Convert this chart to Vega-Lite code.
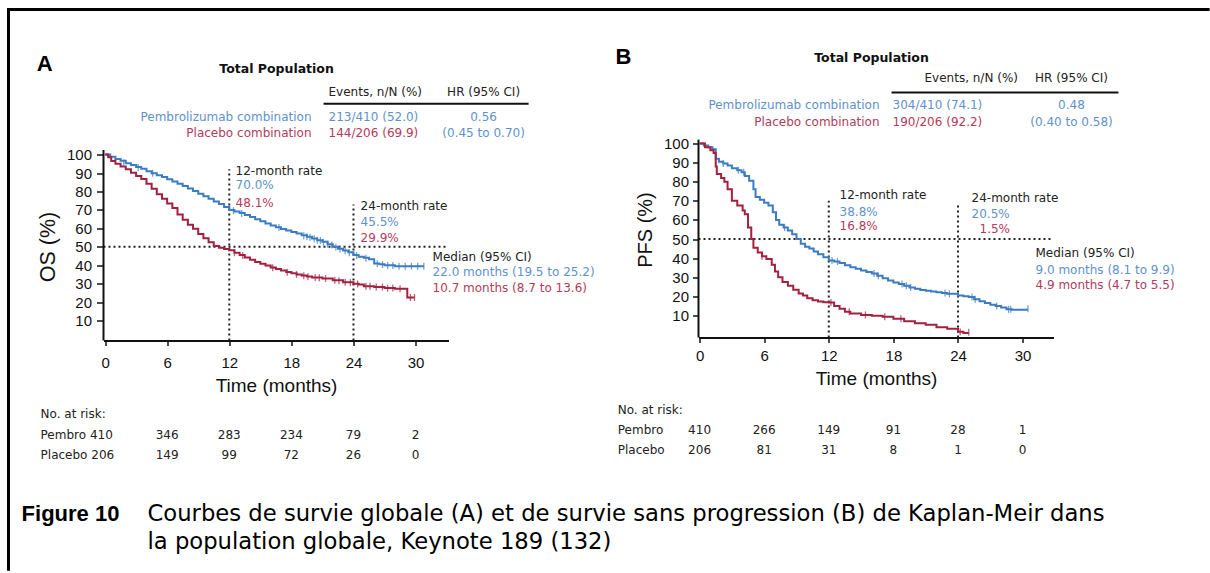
{
  "$schema": "https://vega.github.io/schema/vega-lite/v6.json",
  "autosize": {"type": "pad"},
  "padding": {"left": 5.5, "top": 6.5, "right": 0, "bottom": 0},
  "background": "white",
  "config": {"view": {"stroke": null}, "font": "Liberation Sans"},
  "spacing": 250,
  "bounds": "flush",
  "resolve": {"scale": {"color": "independent"}},
  "datasets": {
    "curveA": [
      {"arm": "Pembro", "x": 0, "y": 100}, {"arm": "Pembro", "x": 0.5, "y": 98.8}, {"arm": "Pembro", "x": 1, "y": 97.6}, {"arm": "Pembro", "x": 1.5, "y": 96.6},
      {"arm": "Pembro", "x": 2, "y": 95.3}, {"arm": "Pembro", "x": 2.5, "y": 94.4}, {"arm": "Pembro", "x": 3, "y": 93.2}, {"arm": "Pembro", "x": 3.5, "y": 92.3},
      {"arm": "Pembro", "x": 4, "y": 91}, {"arm": "Pembro", "x": 4.5, "y": 89.9}, {"arm": "Pembro", "x": 5, "y": 88.8}, {"arm": "Pembro", "x": 5.5, "y": 87.8},
      {"arm": "Pembro", "x": 6, "y": 86.6}, {"arm": "Pembro", "x": 6.5, "y": 85.4}, {"arm": "Pembro", "x": 7, "y": 84.2}, {"arm": "Pembro", "x": 7.5, "y": 83},
      {"arm": "Pembro", "x": 8, "y": 81.6}, {"arm": "Pembro", "x": 8.5, "y": 80.2}, {"arm": "Pembro", "x": 9, "y": 78.8}, {"arm": "Pembro", "x": 9.5, "y": 77.4},
      {"arm": "Pembro", "x": 10, "y": 76}, {"arm": "Pembro", "x": 10.5, "y": 74.6}, {"arm": "Pembro", "x": 11, "y": 73.2}, {"arm": "Pembro", "x": 11.5, "y": 71.6},
      {"arm": "Pembro", "x": 12, "y": 70}, {"arm": "Pembro", "x": 12.5, "y": 69.2}, {"arm": "Pembro", "x": 13, "y": 68.3}, {"arm": "Pembro", "x": 13.5, "y": 67.2},
      {"arm": "Pembro", "x": 14, "y": 66.2}, {"arm": "Pembro", "x": 14.5, "y": 65}, {"arm": "Pembro", "x": 15, "y": 63.9}, {"arm": "Pembro", "x": 15.5, "y": 62.7},
      {"arm": "Pembro", "x": 16, "y": 61.6}, {"arm": "Pembro", "x": 16.5, "y": 60.6}, {"arm": "Pembro", "x": 17, "y": 59.7}, {"arm": "Pembro", "x": 17.5, "y": 58.8},
      {"arm": "Pembro", "x": 18, "y": 58}, {"arm": "Pembro", "x": 18.5, "y": 57.2}, {"arm": "Pembro", "x": 19, "y": 56.2}, {"arm": "Pembro", "x": 19.5, "y": 55.4},
      {"arm": "Pembro", "x": 20, "y": 54.5}, {"arm": "Pembro", "x": 20.5, "y": 53.6}, {"arm": "Pembro", "x": 21, "y": 52.7}, {"arm": "Pembro", "x": 21.5, "y": 51.4},
      {"arm": "Pembro", "x": 22, "y": 50}, {"arm": "Pembro", "x": 22.5, "y": 49}, {"arm": "Pembro", "x": 23, "y": 48}, {"arm": "Pembro", "x": 23.5, "y": 47},
      {"arm": "Pembro", "x": 24, "y": 45.5}, {"arm": "Pembro", "x": 24.5, "y": 44.6}, {"arm": "Pembro", "x": 25, "y": 44}, {"arm": "Pembro", "x": 25.5, "y": 43.2},
      {"arm": "Pembro", "x": 26, "y": 41}, {"arm": "Pembro", "x": 26.5, "y": 40.6}, {"arm": "Pembro", "x": 27, "y": 40}, {"arm": "Pembro", "x": 28, "y": 39.5},
      {"arm": "Pembro", "x": 30.8, "y": 39.5},
      {"arm": "Placebo", "x": 0, "y": 100}, {"arm": "Placebo", "x": 0.3, "y": 98.5}, {"arm": "Placebo", "x": 0.6, "y": 96.5}, {"arm": "Placebo", "x": 1, "y": 95},
      {"arm": "Placebo", "x": 1.5, "y": 93.5}, {"arm": "Placebo", "x": 2, "y": 92}, {"arm": "Placebo", "x": 2.5, "y": 90.2}, {"arm": "Placebo", "x": 3, "y": 88.4},
      {"arm": "Placebo", "x": 3.5, "y": 86.8}, {"arm": "Placebo", "x": 4, "y": 84.2}, {"arm": "Placebo", "x": 4.5, "y": 81.5}, {"arm": "Placebo", "x": 5, "y": 78.5},
      {"arm": "Placebo", "x": 5.5, "y": 76}, {"arm": "Placebo", "x": 6, "y": 73.5}, {"arm": "Placebo", "x": 6.5, "y": 71}, {"arm": "Placebo", "x": 7, "y": 67.5},
      {"arm": "Placebo", "x": 7.5, "y": 64.6}, {"arm": "Placebo", "x": 8, "y": 62}, {"arm": "Placebo", "x": 8.5, "y": 59.8}, {"arm": "Placebo", "x": 9, "y": 57},
      {"arm": "Placebo", "x": 9.5, "y": 54.6}, {"arm": "Placebo", "x": 10, "y": 52.5}, {"arm": "Placebo", "x": 10.5, "y": 50.5}, {"arm": "Placebo", "x": 11, "y": 49.5},
      {"arm": "Placebo", "x": 11.5, "y": 48.8}, {"arm": "Placebo", "x": 12, "y": 48.1}, {"arm": "Placebo", "x": 12.5, "y": 46.8}, {"arm": "Placebo", "x": 13, "y": 45.5},
      {"arm": "Placebo", "x": 13.5, "y": 44.2}, {"arm": "Placebo", "x": 14, "y": 43}, {"arm": "Placebo", "x": 14.5, "y": 41.8}, {"arm": "Placebo", "x": 15, "y": 40.8},
      {"arm": "Placebo", "x": 15.5, "y": 39.8}, {"arm": "Placebo", "x": 16, "y": 38.8}, {"arm": "Placebo", "x": 16.5, "y": 37.9}, {"arm": "Placebo", "x": 17, "y": 37.1},
      {"arm": "Placebo", "x": 17.5, "y": 36.3}, {"arm": "Placebo", "x": 18, "y": 35.6}, {"arm": "Placebo", "x": 18.5, "y": 35}, {"arm": "Placebo", "x": 19, "y": 34.4},
      {"arm": "Placebo", "x": 19.5, "y": 33.9}, {"arm": "Placebo", "x": 20, "y": 33.4}, {"arm": "Placebo", "x": 21, "y": 32.8}, {"arm": "Placebo", "x": 22, "y": 31.8},
      {"arm": "Placebo", "x": 23, "y": 30.8}, {"arm": "Placebo", "x": 24, "y": 29.9}, {"arm": "Placebo", "x": 24.5, "y": 29.5}, {"arm": "Placebo", "x": 25, "y": 28.6},
      {"arm": "Placebo", "x": 26, "y": 28.2}, {"arm": "Placebo", "x": 27, "y": 27.6}, {"arm": "Placebo", "x": 28, "y": 27.3}, {"arm": "Placebo", "x": 29.2, "y": 22.5},
      {"arm": "Placebo", "x": 29.9, "y": 22.5}
    ],
    "censorA": [
      {"arm": "Pembro", "x": 1.8, "y": 95.5}, {"arm": "Pembro", "x": 3.2, "y": 93}, {"arm": "Pembro", "x": 4.6, "y": 89.9}, {"arm": "Pembro", "x": 12.4, "y": 69.6},
      {"arm": "Pembro", "x": 13.2, "y": 68}, {"arm": "Pembro", "x": 16.8, "y": 60.4}, {"arm": "Pembro", "x": 19.2, "y": 56}, {"arm": "Pembro", "x": 19.5, "y": 55.4},
      {"arm": "Pembro", "x": 19.8, "y": 55.2}, {"arm": "Pembro", "x": 20.2, "y": 54.3}, {"arm": "Pembro", "x": 20.5, "y": 53.6}, {"arm": "Pembro", "x": 20.8, "y": 53.4},
      {"arm": "Pembro", "x": 21.1, "y": 52.5}, {"arm": "Pembro", "x": 21.5, "y": 51.4}, {"arm": "Pembro", "x": 21.9, "y": 51}, {"arm": "Pembro", "x": 22.3, "y": 49.8},
      {"arm": "Pembro", "x": 22.7, "y": 48.8}, {"arm": "Pembro", "x": 23.2, "y": 47.8}, {"arm": "Pembro", "x": 23.6, "y": 46.8}, {"arm": "Pembro", "x": 24.3, "y": 45.2},
      {"arm": "Pembro", "x": 25.2, "y": 43.8}, {"arm": "Pembro", "x": 26.3, "y": 40.8}, {"arm": "Pembro", "x": 26.8, "y": 40.4}, {"arm": "Pembro", "x": 27.3, "y": 39.9},
      {"arm": "Pembro", "x": 27.8, "y": 39.8}, {"arm": "Pembro", "x": 28.4, "y": 39.5}, {"arm": "Pembro", "x": 29, "y": 39.5}, {"arm": "Pembro", "x": 29.6, "y": 39.5},
      {"arm": "Pembro", "x": 30.2, "y": 39.5}, {"arm": "Pembro", "x": 30.8, "y": 39.5},
      {"arm": "Placebo", "x": 12.5, "y": 46.8}, {"arm": "Placebo", "x": 13.3, "y": 45.3}, {"arm": "Placebo", "x": 16.2, "y": 38.6}, {"arm": "Placebo", "x": 17.6, "y": 36.2},
      {"arm": "Placebo", "x": 18.5, "y": 35}, {"arm": "Placebo", "x": 19.2, "y": 34.3}, {"arm": "Placebo", "x": 19.6, "y": 33.8}, {"arm": "Placebo", "x": 20.3, "y": 33.3},
      {"arm": "Placebo", "x": 20.7, "y": 33.2}, {"arm": "Placebo", "x": 21.3, "y": 32.8}, {"arm": "Placebo", "x": 22.2, "y": 31.8}, {"arm": "Placebo", "x": 22.6, "y": 31.6},
      {"arm": "Placebo", "x": 23.2, "y": 30.8}, {"arm": "Placebo", "x": 23.7, "y": 30.6}, {"arm": "Placebo", "x": 24.4, "y": 29.8}, {"arm": "Placebo", "x": 25.2, "y": 28.6},
      {"arm": "Placebo", "x": 25.6, "y": 28.6}, {"arm": "Placebo", "x": 26.2, "y": 28.2}, {"arm": "Placebo", "x": 26.8, "y": 28.2}, {"arm": "Placebo", "x": 27.3, "y": 27.6},
      {"arm": "Placebo", "x": 27.8, "y": 27.6}, {"arm": "Placebo", "x": 28.5, "y": 27.3}, {"arm": "Placebo", "x": 29.5, "y": 22.5}, {"arm": "Placebo", "x": 29.9, "y": 22.5}
    ],
    "refA": [
      {"x": 12, "y": -0.8, "x2": 12, "y2": 92},
      {"x": 24, "y": -0.8, "x2": 24, "y2": 73},
      {"x": -0.15, "y": 50, "x2": 33.18, "y2": 50}
    ],
    "solidA": [
      {"x": -0.15, "y": -0.8, "x2": -0.15, "y2": 102.5},
      {"x": 21.11, "y": 127.6, "x2": 40.92, "y2": 127.6}
    ],
    "frame": [
      {"x": -9.47, "y": 178.6, "x2": 106.71, "y2": 178.6},
      {"x": -9.33, "y": 179.4, "x2": -9.33, "y2": -125.6}
    ],
    "textA": [
      {"part": "letter", "x": -6.6, "y": 149.2, "label": "A"},
      {"part": "title", "x": 16.57, "y": 146.6, "label": "Total Population"},
      {"part": "events_head", "x": 21.59, "y": 134.1, "label": "Events, n/N (%)", "arm": "none"},
      {"part": "hr_head", "x": 36.57, "y": 134.1, "label": "HR (95% CI)", "arm": "none"},
      {"part": "arm", "x": 19.95, "y": 120.6, "label": "Pembrolizumab combination", "arm": "Pembro"},
      {"part": "arm", "x": 19.95, "y": 111.9, "label": "Placebo combination", "arm": "Placebo"},
      {"part": "events", "x": 21.59, "y": 120.6, "label": "213/410 (52.0)", "arm": "Pembro"},
      {"part": "events", "x": 21.59, "y": 111.9, "label": "144/206 (69.9)", "arm": "Placebo"},
      {"part": "hr", "x": 36.57, "y": 120.6, "label": "0.56", "arm": "Pembro"},
      {"part": "hr", "x": 36.57, "y": 111.9, "label": "(0.45 to 0.70)", "arm": "Pembro"},
      {"part": "rate_head", "x": 12.61, "y": 91.3, "label": "12-month rate", "arm": "none"},
      {"part": "rate", "x": 12.61, "y": 83.7, "label": "70.0%", "arm": "Pembro"},
      {"part": "rate", "x": 12.61, "y": 74.0, "label": "48.1%", "arm": "Placebo"},
      {"part": "rate_head", "x": 24.69, "y": 72.1, "label": "24-month rate", "arm": "none"},
      {"part": "rate", "x": 24.69, "y": 63.7, "label": "45.5%", "arm": "Pembro"},
      {"part": "rate", "x": 24.69, "y": 55.0, "label": "29.9%", "arm": "Placebo"},
      {"part": "rate_head", "x": 31.64, "y": 44.2, "label": "Median (95% CI)", "arm": "none"},
      {"part": "rate", "x": 31.64, "y": 36.1, "label": "22.0 months (19.5 to 25.2)", "arm": "Pembro"},
      {"part": "rate", "x": 31.64, "y": 27.4, "label": "10.7 months (8.7 to 13.6)", "arm": "Placebo"},
      {"part": "risk_head", "x": -6.23, "y": -40.4, "label": "No. at risk:", "arm": "none"},
      {"part": "risk_head", "x": -6.23, "y": -51.8, "label": "Pembro 410", "arm": "none"},
      {"part": "risk_head", "x": -6.23, "y": -63.1, "label": "Placebo 206", "arm": "none"},
      {"part": "risk", "x": 6, "y": -51.8, "label": "346"},
      {"part": "risk", "x": 12, "y": -51.8, "label": "283"},
      {"part": "risk", "x": 18, "y": -51.8, "label": "234"},
      {"part": "risk", "x": 24, "y": -51.8, "label": "79"},
      {"part": "risk", "x": 30, "y": -51.8, "label": "2"},
      {"part": "risk", "x": 6, "y": -63.1, "label": "149"},
      {"part": "risk", "x": 12, "y": -63.1, "label": "99"},
      {"part": "risk", "x": 18, "y": -63.1, "label": "72"},
      {"part": "risk", "x": 24, "y": -63.1, "label": "26"},
      {"part": "risk", "x": 30, "y": -63.1, "label": "0"},
      {"part": "fig", "x": -8.06, "y": -94.6, "label": "Figure 10"},
      {"part": "caption", "x": 4.1, "y": -94.6, "label": "Courbes de survie globale (A) et de survie sans progression (B) de Kaplan-Meir dans"},
      {"part": "caption", "x": 4.1, "y": -110.3, "label": "la population globale, Keynote 189 (132)"}
    ],
    "curveB": [
      {"arm": "Pembro", "x": 0, "y": 100}, {"arm": "Pembro", "x": 0.4, "y": 99}, {"arm": "Pembro", "x": 0.8, "y": 98}, {"arm": "Pembro", "x": 1.2, "y": 97},
      {"arm": "Pembro", "x": 1.5, "y": 92}, {"arm": "Pembro", "x": 1.8, "y": 90.5}, {"arm": "Pembro", "x": 2.2, "y": 89.5}, {"arm": "Pembro", "x": 2.6, "y": 88.5},
      {"arm": "Pembro", "x": 3, "y": 87}, {"arm": "Pembro", "x": 3.5, "y": 86}, {"arm": "Pembro", "x": 3.9, "y": 85}, {"arm": "Pembro", "x": 4.2, "y": 83},
      {"arm": "Pembro", "x": 4.6, "y": 80.5}, {"arm": "Pembro", "x": 5, "y": 76}, {"arm": "Pembro", "x": 5.2, "y": 72}, {"arm": "Pembro", "x": 5.6, "y": 70.5},
      {"arm": "Pembro", "x": 6, "y": 69}, {"arm": "Pembro", "x": 6.4, "y": 67.5}, {"arm": "Pembro", "x": 6.8, "y": 64}, {"arm": "Pembro", "x": 7.1, "y": 60},
      {"arm": "Pembro", "x": 7.4, "y": 57.5}, {"arm": "Pembro", "x": 7.8, "y": 56}, {"arm": "Pembro", "x": 8.2, "y": 54.5}, {"arm": "Pembro", "x": 8.6, "y": 52.5},
      {"arm": "Pembro", "x": 9, "y": 50}, {"arm": "Pembro", "x": 9.4, "y": 47.5}, {"arm": "Pembro", "x": 9.8, "y": 46}, {"arm": "Pembro", "x": 10.2, "y": 45},
      {"arm": "Pembro", "x": 10.6, "y": 43.5}, {"arm": "Pembro", "x": 11, "y": 42}, {"arm": "Pembro", "x": 11.5, "y": 40.5}, {"arm": "Pembro", "x": 12, "y": 38.8},
      {"arm": "Pembro", "x": 12.5, "y": 38.2}, {"arm": "Pembro", "x": 13, "y": 37.5}, {"arm": "Pembro", "x": 13.5, "y": 36.3}, {"arm": "Pembro", "x": 14, "y": 35.2},
      {"arm": "Pembro", "x": 14.5, "y": 34.5}, {"arm": "Pembro", "x": 15, "y": 33.5}, {"arm": "Pembro", "x": 15.5, "y": 32.8}, {"arm": "Pembro", "x": 16, "y": 32},
      {"arm": "Pembro", "x": 16.5, "y": 30.8}, {"arm": "Pembro", "x": 17, "y": 29.5}, {"arm": "Pembro", "x": 17.5, "y": 28.3}, {"arm": "Pembro", "x": 18, "y": 27.2},
      {"arm": "Pembro", "x": 18.5, "y": 26.5}, {"arm": "Pembro", "x": 19, "y": 25.5}, {"arm": "Pembro", "x": 19.5, "y": 24.7}, {"arm": "Pembro", "x": 20, "y": 24},
      {"arm": "Pembro", "x": 20.5, "y": 23.4}, {"arm": "Pembro", "x": 21, "y": 23}, {"arm": "Pembro", "x": 21.5, "y": 22.6}, {"arm": "Pembro", "x": 22, "y": 22.2},
      {"arm": "Pembro", "x": 22.5, "y": 21.8}, {"arm": "Pembro", "x": 23, "y": 21.4}, {"arm": "Pembro", "x": 24, "y": 20.5}, {"arm": "Pembro", "x": 24.5, "y": 20.1},
      {"arm": "Pembro", "x": 25, "y": 19.7}, {"arm": "Pembro", "x": 25.5, "y": 18.5}, {"arm": "Pembro", "x": 26, "y": 17.5}, {"arm": "Pembro", "x": 26.5, "y": 16.5},
      {"arm": "Pembro", "x": 27, "y": 15.6}, {"arm": "Pembro", "x": 27.5, "y": 15}, {"arm": "Pembro", "x": 28, "y": 14.2}, {"arm": "Pembro", "x": 28.5, "y": 13.2},
      {"arm": "Pembro", "x": 29, "y": 13}, {"arm": "Pembro", "x": 30.5, "y": 13},
      {"arm": "Placebo", "x": 0, "y": 100}, {"arm": "Placebo", "x": 0.5, "y": 98}, {"arm": "Placebo", "x": 1, "y": 96.5}, {"arm": "Placebo", "x": 1.3, "y": 95},
      {"arm": "Placebo", "x": 1.5, "y": 88}, {"arm": "Placebo", "x": 1.6, "y": 84}, {"arm": "Placebo", "x": 2, "y": 82}, {"arm": "Placebo", "x": 2.3, "y": 80},
      {"arm": "Placebo", "x": 2.6, "y": 76}, {"arm": "Placebo", "x": 3, "y": 70}, {"arm": "Placebo", "x": 3.5, "y": 67.5}, {"arm": "Placebo", "x": 4, "y": 65},
      {"arm": "Placebo", "x": 4.2, "y": 63}, {"arm": "Placebo", "x": 4.5, "y": 56}, {"arm": "Placebo", "x": 4.8, "y": 50}, {"arm": "Placebo", "x": 5, "y": 45.5},
      {"arm": "Placebo", "x": 5.4, "y": 43}, {"arm": "Placebo", "x": 5.8, "y": 41}, {"arm": "Placebo", "x": 6.2, "y": 39.5}, {"arm": "Placebo", "x": 6.7, "y": 36.5},
      {"arm": "Placebo", "x": 7, "y": 33}, {"arm": "Placebo", "x": 7.3, "y": 30}, {"arm": "Placebo", "x": 7.7, "y": 27.5}, {"arm": "Placebo", "x": 8.2, "y": 25.5},
      {"arm": "Placebo", "x": 8.7, "y": 23.5}, {"arm": "Placebo", "x": 9.2, "y": 21.5}, {"arm": "Placebo", "x": 9.6, "y": 20.5}, {"arm": "Placebo", "x": 10, "y": 19},
      {"arm": "Placebo", "x": 10.5, "y": 18}, {"arm": "Placebo", "x": 11, "y": 17.3}, {"arm": "Placebo", "x": 11.5, "y": 16.9}, {"arm": "Placebo", "x": 12, "y": 16.8},
      {"arm": "Placebo", "x": 12.5, "y": 15}, {"arm": "Placebo", "x": 13, "y": 13.5}, {"arm": "Placebo", "x": 13.5, "y": 12}, {"arm": "Placebo", "x": 14, "y": 11},
      {"arm": "Placebo", "x": 15, "y": 10.3}, {"arm": "Placebo", "x": 16, "y": 9.8}, {"arm": "Placebo", "x": 17, "y": 9.3}, {"arm": "Placebo", "x": 18, "y": 8.3},
      {"arm": "Placebo", "x": 19, "y": 7}, {"arm": "Placebo", "x": 20, "y": 6}, {"arm": "Placebo", "x": 21, "y": 5.2}, {"arm": "Placebo", "x": 22, "y": 3.8},
      {"arm": "Placebo", "x": 23, "y": 3}, {"arm": "Placebo", "x": 24, "y": 1.5}, {"arm": "Placebo", "x": 24.5, "y": 0.8}, {"arm": "Placebo", "x": 25, "y": 0.8}
    ],
    "censorB": [
      {"arm": "Pembro", "x": 2.2, "y": 89.5}, {"arm": "Pembro", "x": 3.6, "y": 86}, {"arm": "Pembro", "x": 4.1, "y": 85}, {"arm": "Pembro", "x": 7.9, "y": 56},
      {"arm": "Pembro", "x": 12.3, "y": 38.8}, {"arm": "Pembro", "x": 12.8, "y": 38.2}, {"arm": "Pembro", "x": 16.2, "y": 32}, {"arm": "Pembro", "x": 16.6, "y": 30.8},
      {"arm": "Pembro", "x": 18.8, "y": 26.5}, {"arm": "Pembro", "x": 19.2, "y": 25.5}, {"arm": "Pembro", "x": 19.6, "y": 24.7}, {"arm": "Pembro", "x": 22.8, "y": 21.8},
      {"arm": "Pembro", "x": 23.2, "y": 21.4}, {"arm": "Pembro", "x": 25.3, "y": 19.7}, {"arm": "Pembro", "x": 25.6, "y": 18.5}, {"arm": "Pembro", "x": 27.6, "y": 15},
      {"arm": "Pembro", "x": 28.7, "y": 13.2}, {"arm": "Pembro", "x": 28.9, "y": 13.2}, {"arm": "Pembro", "x": 30.5, "y": 13.5},
      {"arm": "Placebo", "x": 5.8, "y": 41}, {"arm": "Placebo", "x": 12.2, "y": 16.8}, {"arm": "Placebo", "x": 13.9, "y": 12}, {"arm": "Placebo", "x": 15.4, "y": 10.3},
      {"arm": "Placebo", "x": 17.2, "y": 9.3}, {"arm": "Placebo", "x": 18.7, "y": 8.3}, {"arm": "Placebo", "x": 24.2, "y": 1.5}, {"arm": "Placebo", "x": 25, "y": 1.2}
    ],
    "refB": [
      {"x": 12, "y": -1.52, "x2": 12, "y2": 70},
      {"x": 24, "y": -1.52, "x2": 24, "y2": 69},
      {"x": -0.1, "y": 50, "x2": 32.87, "y2": 50}
    ],
    "solidB": [
      {"x": -0.1, "y": -1.52, "x2": -0.1, "y2": 102},
      {"x": 17.83, "y": 126.7, "x2": 38.9, "y2": 126.7}
    ],
    "textB": [
      {"part": "letter", "x": -7.8, "y": 145.3, "label": "B"},
      {"part": "title", "x": 15.97, "y": 144.5, "label": "Total Population"},
      {"part": "events_head", "x": 20.89, "y": 134.5, "label": "Events, n/N (%)", "arm": "none"},
      {"part": "hr_head", "x": 34.54, "y": 134.5, "label": "HR (95% CI)", "arm": "none"},
      {"part": "arm", "x": 16.71, "y": 119.9, "label": "Pembrolizumab combination", "arm": "Pembro"},
      {"part": "arm", "x": 16.71, "y": 111.5, "label": "Placebo combination", "arm": "Placebo"},
      {"part": "events", "x": 17.92, "y": 119.9, "label": "304/410 (74.1)", "arm": "Pembro"},
      {"part": "events", "x": 17.92, "y": 111.5, "label": "190/206 (92.2)", "arm": "Placebo"},
      {"part": "hr", "x": 34.54, "y": 119.9, "label": "0.48", "arm": "Pembro"},
      {"part": "hr", "x": 34.54, "y": 111.5, "label": "(0.40 to 0.58)", "arm": "Pembro"},
      {"part": "rate_head", "x": 13.0, "y": 73.3, "label": "12-month rate", "arm": "none"},
      {"part": "rate", "x": 13.0, "y": 64.4, "label": "38.8%", "arm": "Pembro"},
      {"part": "rate", "x": 13.0, "y": 56.6, "label": "16.8%", "arm": "Placebo"},
      {"part": "rate_head", "x": 25.26, "y": 71.4, "label": "24-month rate", "arm": "none"},
      {"part": "rate", "x": 25.26, "y": 63.2, "label": "20.5%", "arm": "Pembro"},
      {"part": "rate", "x": 26.0, "y": 55.2, "label": "1.5%", "arm": "Placebo"},
      {"part": "rate_head", "x": 31.2, "y": 42.6, "label": "Median (95% CI)", "arm": "none"},
      {"part": "rate", "x": 31.2, "y": 33.9, "label": "9.0 months (8.1 to 9.9)", "arm": "Pembro"},
      {"part": "rate", "x": 31.2, "y": 26.1, "label": "4.9 months (4.7 to 5.5)", "arm": "Placebo"},
      {"part": "risk_head", "x": -7.6, "y": -39.2, "label": "No. at risk:", "arm": "none"},
      {"part": "risk_head", "x": -7.6, "y": -49.7, "label": "Pembro", "arm": "none"},
      {"part": "risk_head", "x": -7.6, "y": -60.6, "label": "Placebo", "arm": "none"},
      {"part": "risk", "x": 0, "y": -49.7, "label": "410"},
      {"part": "risk", "x": 6, "y": -49.7, "label": "266"},
      {"part": "risk", "x": 12, "y": -49.7, "label": "149"},
      {"part": "risk", "x": 18, "y": -49.7, "label": "91"},
      {"part": "risk", "x": 24, "y": -49.7, "label": "28"},
      {"part": "risk", "x": 30, "y": -49.7, "label": "1"},
      {"part": "risk", "x": 0, "y": -60.6, "label": "206"},
      {"part": "risk", "x": 6, "y": -60.6, "label": "81"},
      {"part": "risk", "x": 12, "y": -60.6, "label": "31"},
      {"part": "risk", "x": 18, "y": -60.6, "label": "8"},
      {"part": "risk", "x": 24, "y": -60.6, "label": "1"},
      {"part": "risk", "x": 30, "y": -60.6, "label": "0"}
    ]
  },
  "hconcat": [
    {
      "width": 345,
      "height": 204,
      "resolve": {"scale": {"color": "independent"}},
      "encoding": {
        "x": {
          "field": "x", "type": "quantitative",
          "scale": {"domain": [-0.15, 33.18], "nice": false, "zero": false},
          "axis": {
            "values": [0, 6, 12, 18, 24, 30], "format": "d", "title": "Time (months)", "grid": false,
            "domainWidth": 2, "domainColor": "#111", "tickColor": "#111", "tickWidth": 1.5, "tickSize": 5,
            "labelFont": "Liberation Sans", "labelFontSize": 15, "labelColor": "#111", "labelPadding": 10, "labelFlush": false,
            "titleFont": "Liberation Sans", "titleFontSize": 19, "titleFontWeight": "normal", "titleColor": "#111", "titlePadding": 6
          }
        },
        "y": {
          "field": "y", "type": "quantitative",
          "scale": {"domain": [-0.8, 109.8], "nice": false, "zero": false},
          "axis": {
            "values": [10, 20, 30, 40, 50, 60, 70, 80, 90, 100], "format": "d", "title": "OS (%)", "grid": false, "domain": false,
            "tickColor": "#111", "tickWidth": 1.5, "tickSize": 7,
            "labelFont": "Liberation Sans", "labelFontSize": 15, "labelColor": "#111", "labelPadding": 5, "labelFlush": false,
            "titleFont": "Liberation Sans", "titleFontSize": 21.5, "titleFontWeight": "normal", "titleColor": "#111", "titlePadding": 7, "titleY": 110
          }
        }
      },
      "layer": [
        {
          "data": {"name": "frame"},
          "mark": {"type": "rule", "color": "#000", "strokeWidth": 3},
          "encoding": {"x2": {"field": "x2"}, "y2": {"field": "y2"}}
        },
        {
          "data": {"name": "refA"},
          "mark": {"type": "rule", "color": "#222", "strokeWidth": 2, "strokeDash": [2, 3]},
          "encoding": {"x2": {"field": "x2"}, "y2": {"field": "y2"}}
        },
        {
          "data": {"name": "solidA"},
          "mark": {"type": "rule", "color": "#111", "strokeWidth": 2},
          "encoding": {"x2": {"field": "x2"}, "y2": {"field": "y2"}}
        },
        {
          "data": {"name": "curveA"},
          "mark": {"type": "line", "interpolate": "step-after", "strokeWidth": 2},
          "encoding": {"color": {"field": "arm", "type": "nominal", "scale": {"domain": ["Pembro", "Placebo"], "range": ["#3b7cc2", "#a3203f"]}, "legend": null}}
        },
        {
          "data": {"name": "censorA"},
          "mark": {"type": "tick", "orient": "vertical", "size": 7, "thickness": 1.3},
          "encoding": {"color": {"field": "arm", "type": "nominal", "scale": {"domain": ["Pembro", "Placebo"], "range": ["#3b7cc2", "#a3203f"]}, "legend": null}}
        },
        {
          "data": {"name": "textA"},
          "transform": [{"filter": {"field": "part", "oneOf": ["events_head", "events", "rate_head", "rate", "risk_head"]}}],
          "mark": {"type": "text", "align": "left", "baseline": "middle", "font": "DejaVu Sans", "fontSize": 12},
          "encoding": {
            "text": {"field": "label"},
            "color": {"field": "arm", "type": "nominal", "scale": {"domain": ["Pembro", "Placebo", "none"], "range": ["#5e92cc", "#b23b5c", "#222"]}, "legend": null}
          }
        },
        {
          "data": {"name": "textA"},
          "transform": [{"filter": {"field": "part", "oneOf": ["arm"]}}],
          "mark": {"type": "text", "align": "right", "baseline": "middle", "font": "DejaVu Sans", "fontSize": 12},
          "encoding": {
            "text": {"field": "label"},
            "color": {"field": "arm", "type": "nominal", "scale": {"domain": ["Pembro", "Placebo", "none"], "range": ["#5e92cc", "#b23b5c", "#222"]}, "legend": null}
          }
        },
        {
          "data": {"name": "textA"},
          "transform": [{"filter": {"field": "part", "oneOf": ["hr_head", "hr"]}}],
          "mark": {"type": "text", "align": "center", "baseline": "middle", "font": "DejaVu Sans", "fontSize": 12},
          "encoding": {
            "text": {"field": "label"},
            "color": {"field": "arm", "type": "nominal", "scale": {"domain": ["Pembro", "Placebo", "none"], "range": ["#5e92cc", "#b23b5c", "#222"]}, "legend": null}
          }
        },
        {
          "data": {"name": "textA"},
          "transform": [{"filter": {"field": "part", "oneOf": ["risk"]}}],
          "mark": {"type": "text", "align": "center", "baseline": "middle", "font": "DejaVu Sans", "fontSize": 12, "color": "#222"},
          "encoding": {"text": {"field": "label"}}
        },
        {
          "data": {"name": "textA"},
          "transform": [{"filter": {"field": "part", "oneOf": ["title"]}}],
          "mark": {"type": "text", "align": "center", "baseline": "middle", "font": "DejaVu Sans", "fontWeight": "bold", "fontSize": 12.5, "color": "#111"},
          "encoding": {"text": {"field": "label"}}
        },
        {
          "data": {"name": "textA"},
          "transform": [{"filter": {"field": "part", "oneOf": ["letter"]}}],
          "mark": {"type": "text", "align": "left", "baseline": "middle", "font": "Liberation Sans", "fontWeight": "bold", "fontSize": 22, "color": "#000"},
          "encoding": {"text": {"field": "label"}}
        },
        {
          "data": {"name": "textA"},
          "transform": [{"filter": {"field": "part", "oneOf": ["fig"]}}],
          "mark": {"type": "text", "align": "left", "baseline": "middle", "font": "Liberation Sans", "fontWeight": "bold", "fontSize": 22, "color": "#000"},
          "encoding": {"text": {"field": "label"}}
        },
        {
          "data": {"name": "textA"},
          "transform": [{"filter": {"field": "part", "oneOf": ["caption"]}}],
          "mark": {"type": "text", "align": "left", "baseline": "middle", "font": "DejaVu Sans", "fontSize": 22.7, "color": "#000"},
          "encoding": {"text": {"field": "label"}}
        }
      ]
    },
    {
      "width": 355,
      "height": 201,
      "resolve": {"scale": {"color": "independent"}},
      "encoding": {
        "x": {
          "field": "x", "type": "quantitative",
          "scale": {"domain": [-0.1, 32.87], "nice": false, "zero": false},
          "axis": {
            "values": [0, 6, 12, 18, 24, 30], "format": "d", "title": "Time (months)", "grid": false,
            "domainWidth": 2, "domainColor": "#111", "tickColor": "#111", "tickWidth": 1.5, "tickSize": 5,
            "labelFont": "Liberation Sans", "labelFontSize": 15, "labelColor": "#111", "labelPadding": 6, "labelFlush": false,
            "titleFont": "Liberation Sans", "titleFontSize": 19, "titleFontWeight": "normal", "titleColor": "#111", "titlePadding": 6
          }
        },
        "y": {
          "field": "y", "type": "quantitative",
          "scale": {"domain": [-1.52, 103.66], "nice": false, "zero": false},
          "axis": {
            "values": [10, 20, 30, 40, 50, 60, 70, 80, 90, 100], "format": "d", "title": "PFS (%)", "grid": false, "domain": false,
            "tickColor": "#111", "tickWidth": 1.5, "tickSize": 6,
            "labelFont": "Liberation Sans", "labelFontSize": 15, "labelColor": "#111", "labelPadding": 4, "labelFlush": false,
            "titleFont": "Liberation Sans", "titleFontSize": 20, "titleFontWeight": "normal", "titleColor": "#111", "titlePadding": 8, "titleY": 93
          }
        }
      },
      "layer": [
        {
          "data": {"name": "refB"},
          "mark": {"type": "rule", "color": "#222", "strokeWidth": 2, "strokeDash": [2, 3]},
          "encoding": {"x2": {"field": "x2"}, "y2": {"field": "y2"}}
        },
        {
          "data": {"name": "solidB"},
          "mark": {"type": "rule", "color": "#111", "strokeWidth": 2},
          "encoding": {"x2": {"field": "x2"}, "y2": {"field": "y2"}}
        },
        {
          "data": {"name": "curveB"},
          "mark": {"type": "line", "interpolate": "step-after", "strokeWidth": 2},
          "encoding": {"color": {"field": "arm", "type": "nominal", "scale": {"domain": ["Pembro", "Placebo"], "range": ["#3b7cc2", "#a3203f"]}, "legend": null}}
        },
        {
          "data": {"name": "censorB"},
          "mark": {"type": "tick", "orient": "vertical", "size": 7, "thickness": 1.3},
          "encoding": {"color": {"field": "arm", "type": "nominal", "scale": {"domain": ["Pembro", "Placebo"], "range": ["#3b7cc2", "#a3203f"]}, "legend": null}}
        },
        {
          "data": {"name": "textB"},
          "transform": [{"filter": {"field": "part", "oneOf": ["events_head", "events", "rate_head", "rate", "risk_head"]}}],
          "mark": {"type": "text", "align": "left", "baseline": "middle", "font": "DejaVu Sans", "fontSize": 12},
          "encoding": {
            "text": {"field": "label"},
            "color": {"field": "arm", "type": "nominal", "scale": {"domain": ["Pembro", "Placebo", "none"], "range": ["#5e92cc", "#b23b5c", "#222"]}, "legend": null}
          }
        },
        {
          "data": {"name": "textB"},
          "transform": [{"filter": {"field": "part", "oneOf": ["arm"]}}],
          "mark": {"type": "text", "align": "right", "baseline": "middle", "font": "DejaVu Sans", "fontSize": 12},
          "encoding": {
            "text": {"field": "label"},
            "color": {"field": "arm", "type": "nominal", "scale": {"domain": ["Pembro", "Placebo", "none"], "range": ["#5e92cc", "#b23b5c", "#222"]}, "legend": null}
          }
        },
        {
          "data": {"name": "textB"},
          "transform": [{"filter": {"field": "part", "oneOf": ["hr_head", "hr"]}}],
          "mark": {"type": "text", "align": "center", "baseline": "middle", "font": "DejaVu Sans", "fontSize": 12},
          "encoding": {
            "text": {"field": "label"},
            "color": {"field": "arm", "type": "nominal", "scale": {"domain": ["Pembro", "Placebo", "none"], "range": ["#5e92cc", "#b23b5c", "#222"]}, "legend": null}
          }
        },
        {
          "data": {"name": "textB"},
          "transform": [{"filter": {"field": "part", "oneOf": ["risk"]}}],
          "mark": {"type": "text", "align": "center", "baseline": "middle", "font": "DejaVu Sans", "fontSize": 12, "color": "#222"},
          "encoding": {"text": {"field": "label"}}
        },
        {
          "data": {"name": "textB"},
          "transform": [{"filter": {"field": "part", "oneOf": ["title"]}}],
          "mark": {"type": "text", "align": "center", "baseline": "middle", "font": "DejaVu Sans", "fontWeight": "bold", "fontSize": 12.5, "color": "#111"},
          "encoding": {"text": {"field": "label"}}
        },
        {
          "data": {"name": "textB"},
          "transform": [{"filter": {"field": "part", "oneOf": ["letter"]}}],
          "mark": {"type": "text", "align": "left", "baseline": "middle", "font": "Liberation Sans", "fontWeight": "bold", "fontSize": 22, "color": "#000"},
          "encoding": {"text": {"field": "label"}}
        }
      ]
    }
  ]
}
